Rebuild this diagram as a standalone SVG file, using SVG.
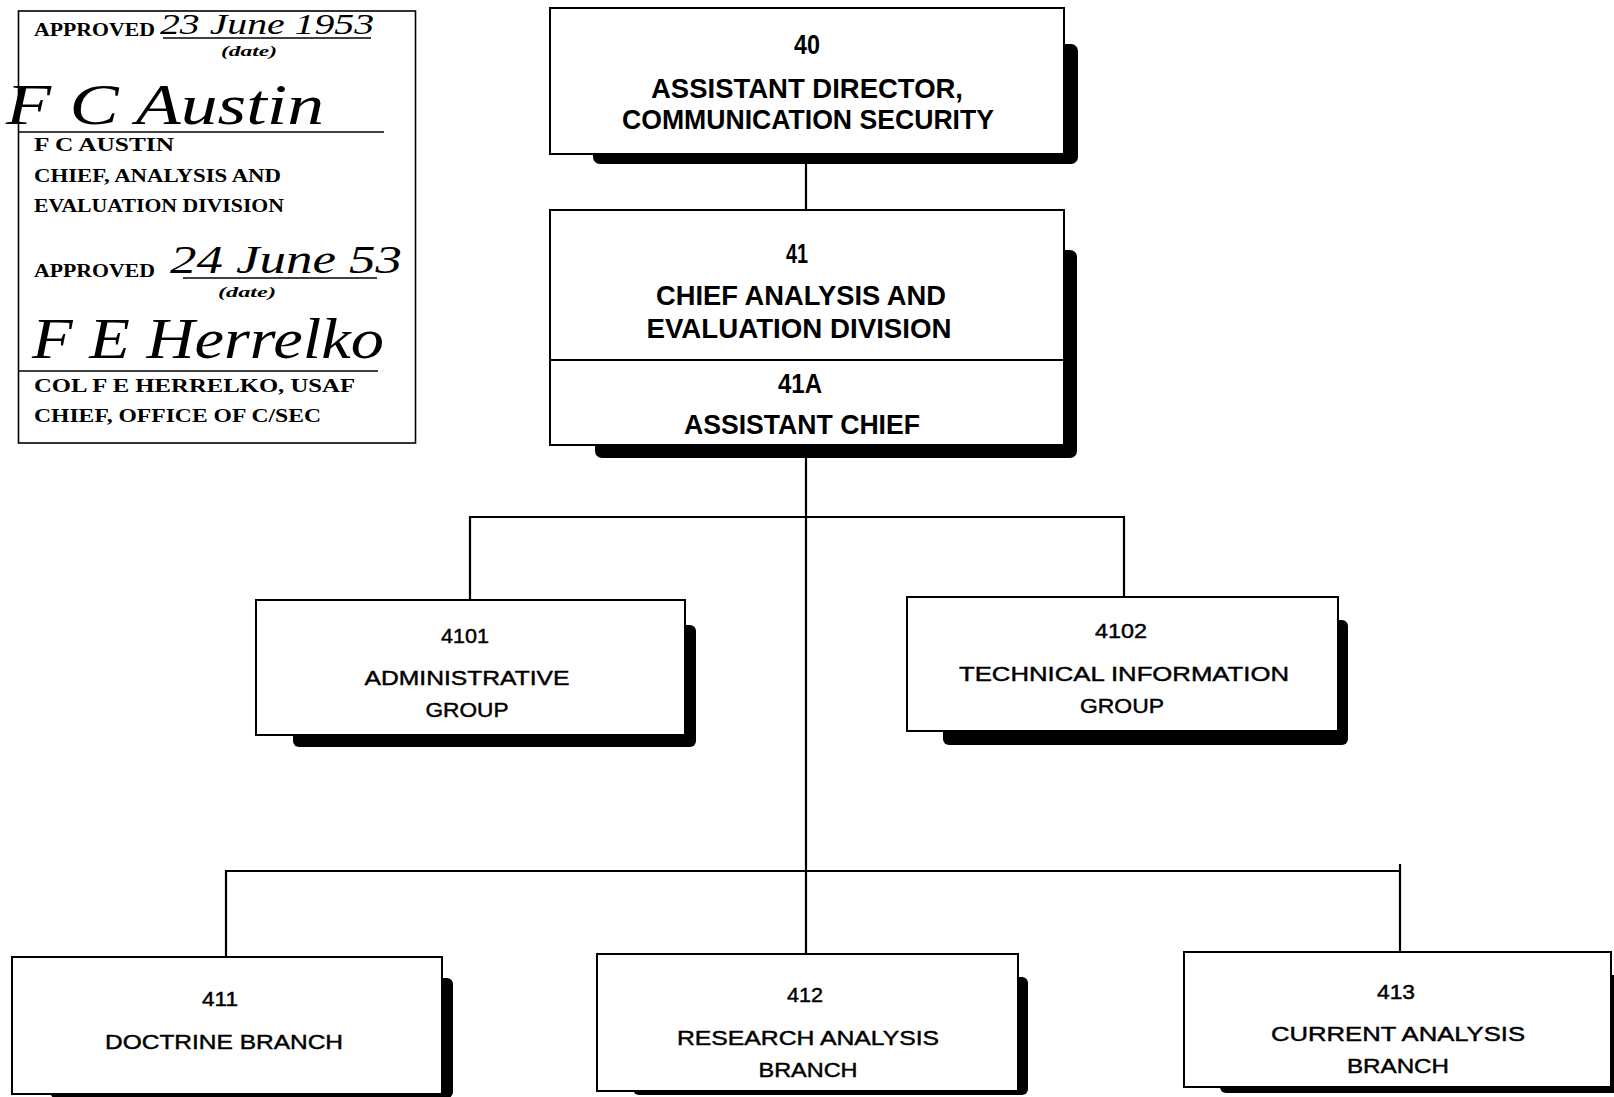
<svg xmlns="http://www.w3.org/2000/svg" width="1614" height="1097" viewBox="0 0 1614 1097">
<style>
.bg{fill:#fff}
.box{fill:#fff;stroke:#000;stroke-width:2}
.sh{fill:#000}
.ln{stroke:#000;stroke-width:2.2;fill:none}
.thin{stroke:#000;stroke-width:1.6;fill:none}
.hb{font-family:"Liberation Sans Narrow","Liberation Sans",Arial,sans-serif;font-weight:bold;fill:#000;text-anchor:middle;font-size:28px}
.hr{font-family:"Liberation Sans","DejaVu Sans",Arial,sans-serif;font-weight:normal;fill:#000;stroke:#000;stroke-width:0.45;text-anchor:middle;font-size:21px}
.sr{font-family:"Liberation Serif","Times New Roman",serif;font-weight:bold;fill:#000;font-size:19px}
.dt{font-family:"Liberation Serif","Times New Roman",serif;font-weight:bold;font-style:italic;fill:#000;font-size:15px}
.hw{font-family:"Liberation Serif","DejaVu Serif",serif;font-style:italic;fill:#000}
</style>
<rect class="bg" x="0" y="0" width="1614" height="1097"/>

<g id="approval">
  <rect x="18.5" y="11" width="397" height="432" fill="none" stroke="#000" stroke-width="1.6"/>
  <text class="sr" x="34" y="36" textLength="121" lengthAdjust="spacingAndGlyphs">APPROVED</text>
  <text class="hw" x="160" y="34" font-size="30" textLength="214" lengthAdjust="spacingAndGlyphs">23 June 1953</text>
  <line class="thin" x1="163" y1="38" x2="371" y2="38"/>
  <text class="dt" x="221" y="56" textLength="56" lengthAdjust="spacingAndGlyphs">(date)</text>
  <text class="hw" x="6" y="124" font-size="56" textLength="318" lengthAdjust="spacingAndGlyphs">F C Austin</text>
  <line class="thin" x1="19" y1="132" x2="384" y2="132"/>
  <text class="sr" x="34" y="151" textLength="140" lengthAdjust="spacingAndGlyphs">F  C  AUSTIN</text>
  <text class="sr" x="34" y="182" textLength="247" lengthAdjust="spacingAndGlyphs">CHIEF, ANALYSIS AND</text>
  <text class="sr" x="34" y="212" textLength="250" lengthAdjust="spacingAndGlyphs">EVALUATION DIVISION</text>
  <text class="sr" x="34" y="277" textLength="121" lengthAdjust="spacingAndGlyphs">APPROVED</text>
  <text class="hw" x="170" y="273" font-size="40" textLength="232" lengthAdjust="spacingAndGlyphs">24 June 53</text>
  <line class="thin" x1="183" y1="278" x2="377" y2="278"/>
  <text class="dt" x="218" y="297" textLength="58" lengthAdjust="spacingAndGlyphs">(date)</text>
  <text class="hw" x="32" y="358" font-size="58" textLength="352" lengthAdjust="spacingAndGlyphs">F E Herrelko</text>
  <line class="thin" x1="19" y1="371" x2="378" y2="371"/>
  <text class="sr" x="34" y="392" textLength="321" lengthAdjust="spacingAndGlyphs">COL  F  E  HERRELKO, USAF</text>
  <text class="sr" x="34" y="422" textLength="287" lengthAdjust="spacingAndGlyphs">CHIEF, OFFICE OF C/SEC</text>
</g>

<g id="connectors">
  <line class="ln" x1="806" y1="154" x2="806" y2="210"/>
  <line class="ln" x1="806" y1="445" x2="806" y2="954"/>
  <line class="ln" x1="469" y1="517" x2="1125" y2="517"/>
  <line class="ln" x1="470" y1="516" x2="470" y2="600"/>
  <line class="ln" x1="1124" y1="516" x2="1124" y2="597"/>
  <line class="ln" x1="225" y1="871" x2="1401" y2="871"/>
  <line class="ln" x1="226" y1="870" x2="226" y2="957"/>
  <line class="ln" x1="1400" y1="864" x2="1400" y2="952"/>
</g>

<g id="n40">
  <rect class="sh" x="593" y="44" width="485" height="120" rx="7"/>
  <rect class="box" x="550" y="8" width="514" height="146"/>
  <text class="hb" x="807" y="54" textLength="26" lengthAdjust="spacingAndGlyphs">40</text>
  <text class="hb" x="807" y="98" textLength="312" lengthAdjust="spacingAndGlyphs">ASSISTANT DIRECTOR,</text>
  <text class="hb" x="808" y="129" textLength="372" lengthAdjust="spacingAndGlyphs">COMMUNICATION SECURITY</text>
</g>

<g id="n41">
  <rect class="sh" x="595" y="250" width="482" height="208" rx="7"/>
  <rect class="box" x="550" y="210" width="514" height="235"/>
  <line class="ln" x1="550" y1="360" x2="1064" y2="360"/>
  <text class="hb" x="797" y="263" textLength="22" lengthAdjust="spacingAndGlyphs">41</text>
  <text class="hb" x="801" y="305" textLength="290" lengthAdjust="spacingAndGlyphs">CHIEF ANALYSIS AND</text>
  <text class="hb" x="799" y="338" textLength="305" lengthAdjust="spacingAndGlyphs">EVALUATION DIVISION</text>
  <text class="hb" x="800" y="393" textLength="44" lengthAdjust="spacingAndGlyphs">41A</text>
  <text class="hb" x="802" y="434" textLength="236" lengthAdjust="spacingAndGlyphs">ASSISTANT CHIEF</text>
</g>

<g id="n4101">
  <rect class="sh" x="293" y="625" width="403" height="122" rx="6"/>
  <rect class="box" x="256" y="600" width="429" height="135"/>
  <text class="hr" x="465" y="643" textLength="48" lengthAdjust="spacingAndGlyphs">4101</text>
  <text class="hr" x="467" y="685" textLength="205" lengthAdjust="spacingAndGlyphs">ADMINISTRATIVE</text>
  <text class="hr" x="467" y="717" textLength="83" lengthAdjust="spacingAndGlyphs">GROUP</text>
</g>

<g id="n4102">
  <rect class="sh" x="943" y="620" width="405" height="125" rx="6"/>
  <rect class="box" x="907" y="597" width="431" height="134"/>
  <text class="hr" x="1121" y="638" textLength="52" lengthAdjust="spacingAndGlyphs">4102</text>
  <text class="hr" x="1124" y="681" textLength="330" lengthAdjust="spacingAndGlyphs">TECHNICAL INFORMATION</text>
  <text class="hr" x="1122" y="713" textLength="84" lengthAdjust="spacingAndGlyphs">GROUP</text>
</g>

<g id="n411">
  <rect class="sh" x="50" y="978" width="403" height="120" rx="6"/>
  <rect class="box" x="12" y="957" width="430" height="137"/>
  <text class="hr" x="220" y="1006" textLength="36" lengthAdjust="spacingAndGlyphs">411</text>
  <text class="hr" x="224" y="1049" textLength="238" lengthAdjust="spacingAndGlyphs">DOCTRINE BRANCH</text>
</g>

<g id="n412">
  <rect class="sh" x="633" y="977" width="395" height="118" rx="6"/>
  <rect class="box" x="597" y="954" width="421" height="137"/>
  <text class="hr" x="805" y="1002" textLength="36" lengthAdjust="spacingAndGlyphs">412</text>
  <text class="hr" x="808" y="1045" textLength="262" lengthAdjust="spacingAndGlyphs">RESEARCH ANALYSIS</text>
  <text class="hr" x="808" y="1077" textLength="99" lengthAdjust="spacingAndGlyphs">BRANCH</text>
</g>

<g id="n413">
  <rect class="sh" x="1220" y="975" width="400" height="118" rx="6"/>
  <rect class="box" x="1184" y="952" width="427" height="135"/>
  <text class="hr" x="1396" y="999" textLength="38" lengthAdjust="spacingAndGlyphs">413</text>
  <text class="hr" x="1398" y="1041" textLength="254" lengthAdjust="spacingAndGlyphs">CURRENT ANALYSIS</text>
  <text class="hr" x="1398" y="1073" textLength="102" lengthAdjust="spacingAndGlyphs">BRANCH</text>
</g>
</svg>
